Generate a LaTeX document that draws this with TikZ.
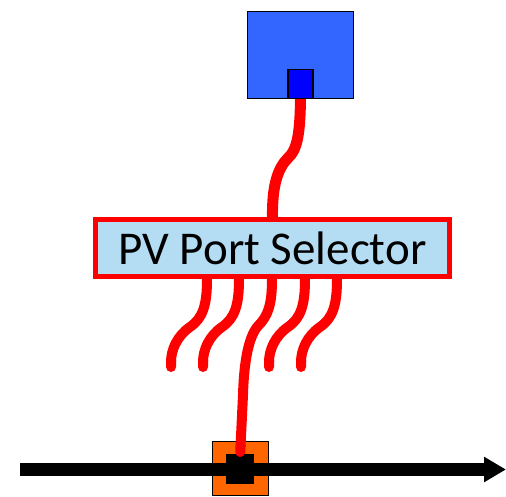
\documentclass[tikz,border=0pt]{standalone}
\usepackage{fontspec}
\setmainfont{Carlito}
\usepackage{xcolor}
\usepackage{tikz}
\usetikzlibrary{arrows.meta}

\definecolor{hostblue}{RGB}{51,102,255}
\definecolor{portblue}{RGB}{0,0,255}
\definecolor{selblue}{RGB}{180,220,242}
\definecolor{taporange}{RGB}{255,102,0}

\begin{document}
\begin{tikzpicture}[x=1pt, y=-1pt,
  blk/.style={draw, line width=1.2pt, inner sep=0pt},
  wire/.style={draw=red, line width=10pt, -{Round Cap[]}},
  bus/.style={line width=13pt, -{Triangle[length=22pt,width=24pt]}}
]
\useasboundingbox (0,0) rectangle (506,497);

% host with its port
\node[blk, fill=hostblue, minimum width=106pt, minimum height=87pt] (host) at (300.5,55) {};
\node[blk, fill=portblue, minimum width=25pt, minimum height=29pt, anchor=south] (hostport) at (host.south) {};

% selector
\node[draw=red, line width=5pt, fill=selblue, inner sep=0pt,
      minimum width=354pt, minimum height=57pt,
      font=\fontsize{47}{54}\selectfont] (selector) at (272.5,248) {PV Port Selector};

% bus with tap
\node[blk, line width=0.8pt, fill=taporange, minimum width=56pt, minimum height=54pt] (tap) at (240.5,468.5) {};
\coordinate (busin) at (20,469.5);
\coordinate (busout) at (506,469.5);
\draw[bus] (busin) -- (busout);
\node[fill=black, inner sep=0pt, minimum width=28pt, minimum height=30pt] (tapport) at (240,469) {};
\coordinate (tapend) at (240,457);

% wires
\draw[red, line width=11pt] (hostport.south) .. controls (300,135) and (297,150) .. (288,158)
  .. controls (278,168) and (272,185) .. (selector.north);
\foreach \i/\x in {1/207,2/239,4/305,5/337} {
  \coordinate (out\i) at (\x,279);
  \coordinate (end\i) at (\x-36,372);
  \draw[wire] (out\i) .. controls (\x,305) and (\x-4,318) .. (\x-17,327)
    .. controls (\x-30,336) and (\x-36,350) .. (end\i);
}
\coordinate (out3) at (272,279);
\draw[wire] (out3) .. controls (272,305) and (268,316) .. (258,326)
  .. controls (249,336) and (244,360) .. (243,395) -- (tapend);
\end{tikzpicture}
\end{document}
